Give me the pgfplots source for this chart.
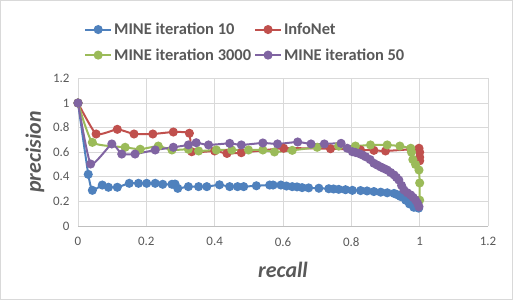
\documentclass[border=0pt]{standalone}
\usepackage{fontspec}
\setmainfont{Carlito}
\usepackage{pgfplots}
\pgfplotsset{compat=1.18}
\definecolor{mblue}{HTML}{4F81BD}
\definecolor{mred}{HTML}{C0504D}
\definecolor{mgreen}{HTML}{9BBB59}
\definecolor{mpurple}{HTML}{8064A2}
\definecolor{textgray}{HTML}{595959}
\definecolor{gridgray}{HTML}{D9D9D9}
\definecolor{axisgray}{HTML}{BFBFBF}
\begin{document}
\begin{tikzpicture}
\useasboundingbox (0bp,0bp) rectangle (513bp,300bp);
\draw[gridgray, line width=0.75bp] (0.5bp,0.5bp) rectangle (512.5bp,299.5bp);
\begin{axis}[
  at={(78bp,74bp)}, anchor=south west,
  scale only axis, width=410bp, height=147.6bp,
  xmin=0, xmax=1.2, ymin=0, ymax=1.2,
  enlargelimits=false, clip=false,
  xtick={0,0.2,0.4,0.6,0.8,1,1.2},
  ytick={0,0.2,0.4,0.6,0.8,1,1.2},
  major tick length=0pt,
  grid=major,
  grid style={gridgray, line width=0.75bp},
  axis lines=left,
  x axis line style={axisgray, line width=0.75bp, -},
  y axis line style={draw=none},
  /pgf/number format/assume math mode=true,
  /pgf/number format/fixed,
  tick label style={font=\fontsize{13}{13}\selectfont, text=textgray},
  xticklabel style={yshift=-8bp},
  yticklabel style={xshift=-5bp},
  xlabel={\textbf{\textit{recall}}},
  ylabel={\textbf{\textit{precision}}},
  label style={font=\fontsize{22}{22}\selectfont, text=textgray},
  xlabel style={at={(axis description cs:0.5,-0.298)}, anchor=center},
  ylabel style={at={(axis description cs:-0.105,0.5)}, anchor=center},
  legend columns=2,
  legend cell align=left,
  legend style={at={(axis description cs:0.0146,1.39)}, anchor=north west,
    draw=none, fill=none, inner sep=0pt,
    font=\fontsize{16.5}{16.5}\selectfont\bfseries, text=textgray,
    row sep=8.5bp,
    /tikz/every even column/.append style={column sep=1bp}},
  legend image code/.code={\draw[mark repeat=2,mark phase=2,#1] plot coordinates {(0bp,0bp) (13bp,0bp) (26bp,0bp)};},
  every axis plot/.append style={line width=2bp, mark=*, mark size=3.5bp, smooth, tension=0.3},
]
\addplot[mblue, mark options={solid, fill=mblue, draw=mblue}] coordinates {
(0,1) (0.030,0.42) (0.042,0.29) (0.071,0.333) (0.089,0.315) (0.115,0.315)
(0.150,0.347) (0.177,0.347) (0.201,0.347) (0.226,0.347) (0.248,0.339) (0.275,0.339)
(0.284,0.341) (0.292,0.306) (0.323,0.32) (0.353,0.32) (0.377,0.32) (0.414,0.335)
(0.444,0.32) (0.467,0.32) (0.485,0.32) (0.522,0.327) (0.561,0.333) (0.571,0.333)
(0.594,0.333) (0.610,0.325) (0.627,0.32) (0.641,0.318) (0.656,0.312) (0.675,0.31)
(0.705,0.307) (0.734,0.303) (0.748,0.301) (0.763,0.298) (0.783,0.295) (0.803,0.29)
(0.827,0.288) (0.846,0.285) (0.866,0.28) (0.886,0.275) (0.905,0.27) (0.925,0.265)
(0.934,0.255) (0.944,0.24) (0.959,0.21) (0.970,0.18) (0.983,0.152) (0.997,0.145)
};
\addlegendentry{MINE iteration 10}
\addplot[mred, mark options={solid, fill=mred, draw=mred}] coordinates {
(0,1) (0.053,0.748) (0.115,0.786) (0.164,0.748) (0.219,0.748) (0.279,0.764)
(0.326,0.754) (0.333,0.604) (0.40,0.61) (0.436,0.59) (0.478,0.596) (0.602,0.632)
(0.739,0.628) (0.827,0.618) (0.866,0.615) (0.9,0.61) (0.974,0.624) (0.998,0.632)
(1.0,0.60) (1.0,0.56) (1.0,0.53)
};
\addlegendentry{InfoNet}
\addplot[mgreen, mark options={solid, fill=mgreen, draw=mgreen}] coordinates {
(0,1) (0.042,0.68) (0.138,0.64) (0.182,0.624) (0.235,0.65) (0.275,0.618)
(0.323,0.624) (0.353,0.61) (0.405,0.618) (0.45,0.618) (0.499,0.618) (0.541,0.618)
(0.575,0.602) (0.627,0.615) (0.70,0.64) (0.763,0.65) (0.812,0.65) (0.856,0.659)
(0.905,0.659) (0.942,0.65) (0.974,0.632) (0.976,0.60) (0.98,0.54) (0.988,0.50)
(0.998,0.455) (1.0,0.35) (1.0,0.21)
};
\addlegendentry{MINE iteration 3000}
\addplot[mpurple, mark options={solid, fill=mpurple, draw=mpurple}] coordinates {
(0,1) (0.037,0.504) (0.099,0.667) (0.128,0.585) (0.167,0.585) (0.226,0.618)
(0.279,0.64) (0.323,0.659) (0.346,0.677) (0.382,0.659) (0.444,0.672) (0.478,0.659)
(0.541,0.675) (0.584,0.667) (0.643,0.683) (0.682,0.667) (0.721,0.667) (0.77,0.672)
(0.788,0.632) (0.803,0.604) (0.812,0.598) (0.822,0.59) (0.832,0.578) (0.842,0.563)
(0.855,0.54) (0.866,0.51) (0.876,0.495) (0.886,0.48) (0.895,0.468) (0.905,0.455)
(0.915,0.435) (0.925,0.415) (0.932,0.395) (0.939,0.374) (0.947,0.33) (0.954,0.293)
(0.964,0.27) (0.974,0.252) (0.981,0.232) (0.988,0.211) (0.994,0.185) (0.998,0.157)
};
\addlegendentry{MINE iteration 50}
\end{axis}
\end{tikzpicture}
\end{document}
